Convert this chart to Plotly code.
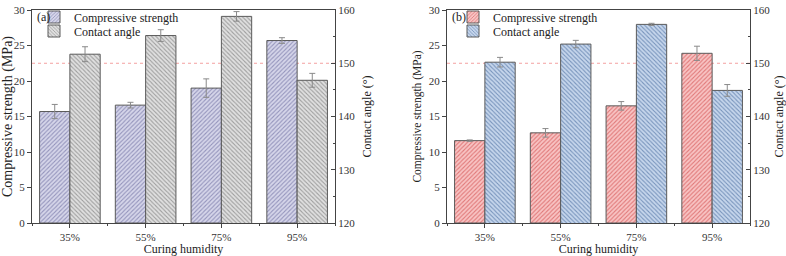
import plotly.graph_objects as go

categories = ["35%", "55%", "75%", "95%"]

# Panel (a)
strength_a = [15.7, 16.6, 19.0, 25.7]
strength_a_err = [1.0, 0.4, 1.3, 0.4]
angle_a = [151.7, 155.2, 158.8, 146.8]
angle_a_err = [1.4, 1.1, 0.9, 1.3]

# Panel (b)
strength_b = [11.6, 12.7, 16.5, 23.9]
strength_b_err = [0.1, 0.6, 0.6, 1.0]
angle_b = [150.2, 153.6, 157.3, 144.9]
angle_b_err = [0.9, 0.7, 0.2, 1.1]

threshold_angle = 150

FONT = "Liberation Serif"
AX = "#444444"
W, H = 786, 256

xpos = list(range(len(categories)))

fig = go.Figure()

def add_panel(xa, ya_l, ya_r, strength, s_err, angle, a_err,
              c_bg, c_fg, a_bg, a_fg, leg_s, leg_a):
    fig.add_trace(go.Bar(
        x=xpos, y=strength, name="Compressive strength",
        xaxis=xa, yaxis=ya_l, width=0.4, offset=-0.4,
        marker=dict(color=c_bg, line=dict(color="#5a5a5a", width=1),
                    pattern=dict(shape="/", fgcolor=c_fg, bgcolor=c_bg,
                                 size=3, solidity=0.35)),
        error_y=dict(type="data", array=s_err, color="#8a8a8a",
                     thickness=1, width=3),
        legend=leg_s,
    ))
    fig.add_trace(go.Bar(
        x=xpos, y=angle, name="Contact angle",
        xaxis=xa, yaxis=ya_r, width=0.4, offset=0.0,
        marker=dict(color=a_bg, line=dict(color="#5a5a5a", width=1),
                    pattern=dict(shape="\\", fgcolor=a_fg, bgcolor=a_bg,
                                 size=3, solidity=0.35)),
        error_y=dict(type="data", array=a_err, color="#8a8a8a",
                     thickness=1, width=3),
        legend=leg_a,
    ))

add_panel("x", "y", "y2", strength_a, strength_a_err, angle_a, angle_a_err,
          "#d6d6ea", "#9494bc", "#e0e0e0", "#9e9e9e", "legend", "legend2")
add_panel("x2", "y3", "y4", strength_b, strength_b_err, angle_b, angle_b_err,
          "#f8c4c4", "#e07878", "#c6d6ec", "#7894bc", "legend3", "legend4")

ydom = [1 - 223 / H, 1 - 10 / H]
dom_a = [32 / W, 335 / W]
dom_b = [447 / W, 750 / W]

def fnt(size, color="#222222"):
    return dict(family=FONT, size=size, color=color)

def xaxis(domain, anchor):
    return dict(
        domain=domain, anchor=anchor, range=[-0.5, len(categories) - 0.5],
        tickvals=xpos, ticktext=categories, ticks="outside", ticklen=4,
        tickcolor=AX, showline=True, linecolor=AX, linewidth=1, mirror=True,
        showgrid=False, zeroline=False, tickfont=fnt(11, "#333333"),
        minor=dict(tick0=0.5, dtick=1, ticks="outside", ticklen=2,
                   tickcolor=AX, showgrid=False),
        title=dict(text="Curing humidity", standoff=4, font=fnt(12)),
    )

def yleft(domain, anchor, tsize):
    return dict(
        domain=domain, anchor=anchor, range=[0, 30], dtick=5,
        ticks="outside", ticklen=4, tickcolor=AX, showline=True,
        linecolor=AX, linewidth=1, showgrid=False, zeroline=False,
        tickfont=fnt(11, "#333333"),
        title=dict(text="Compressive strength (MPa)", standoff=4, font=fnt(tsize)),
    )

def yright(overlay, anchor):
    return dict(
        overlaying=overlay, anchor=anchor, side="right", range=[120, 160],
        dtick=10, ticks="inside", ticklen=4, tickcolor=AX, showline=True,
        linecolor=AX, linewidth=1, showgrid=False, zeroline=False,
        tickfont=fnt(11, "#333333"),
        minor=dict(dtick=5, ticks="inside", ticklen=2, tickcolor=AX),
        title=dict(text="Contact angle (°)", standoff=8, font=fnt(12)),
    )

def leg(xpx, ypx):
    return dict(
        x=xpx / W, y=1 - ypx / H, xanchor="left", yanchor="middle",
        font=fnt(12), bgcolor="rgba(0,0,0,0)", itemwidth=30,
    )

fig.update_layout(
    template="none",
    width=W, height=H,
    margin=dict(l=0, r=0, t=0, b=0),
    paper_bgcolor="white", plot_bgcolor="white",
    showlegend=True,
    font=fnt(12),
    xaxis=xaxis(dom_a, "y"),
    yaxis=yleft(ydom, "x", 14),
    yaxis2=yright("y", "x"),
    xaxis2=xaxis(dom_b, "y3"),
    yaxis3=yleft(ydom, "x2", 11.5),
    yaxis4=yright("y3", "x2"),
    legend=leg(34, 17),
    legend2=leg(34, 31),
    legend3=leg(453, 17),
    legend4=leg(453, 31),
    bargap=0.2,
)

for yr, xd, lab, lx in [("y2", "x", "(a)", 35), ("y4", "x2", "(b)", 450)]:
    fig.add_shape(type="line", xref=f"{xd} domain", yref=yr,
                  x0=0, x1=1, y0=threshold_angle, y1=threshold_angle,
                  line=dict(color="#f4a0a0", width=1, dash="dot"), layer="below")
    fig.add_annotation(text=lab, xref="paper", yref="paper",
                       x=lx / W, y=1 - 17 / H, xanchor="left", yanchor="middle",
                       showarrow=False, font=fnt(12))

fig.write_html("out.html")
